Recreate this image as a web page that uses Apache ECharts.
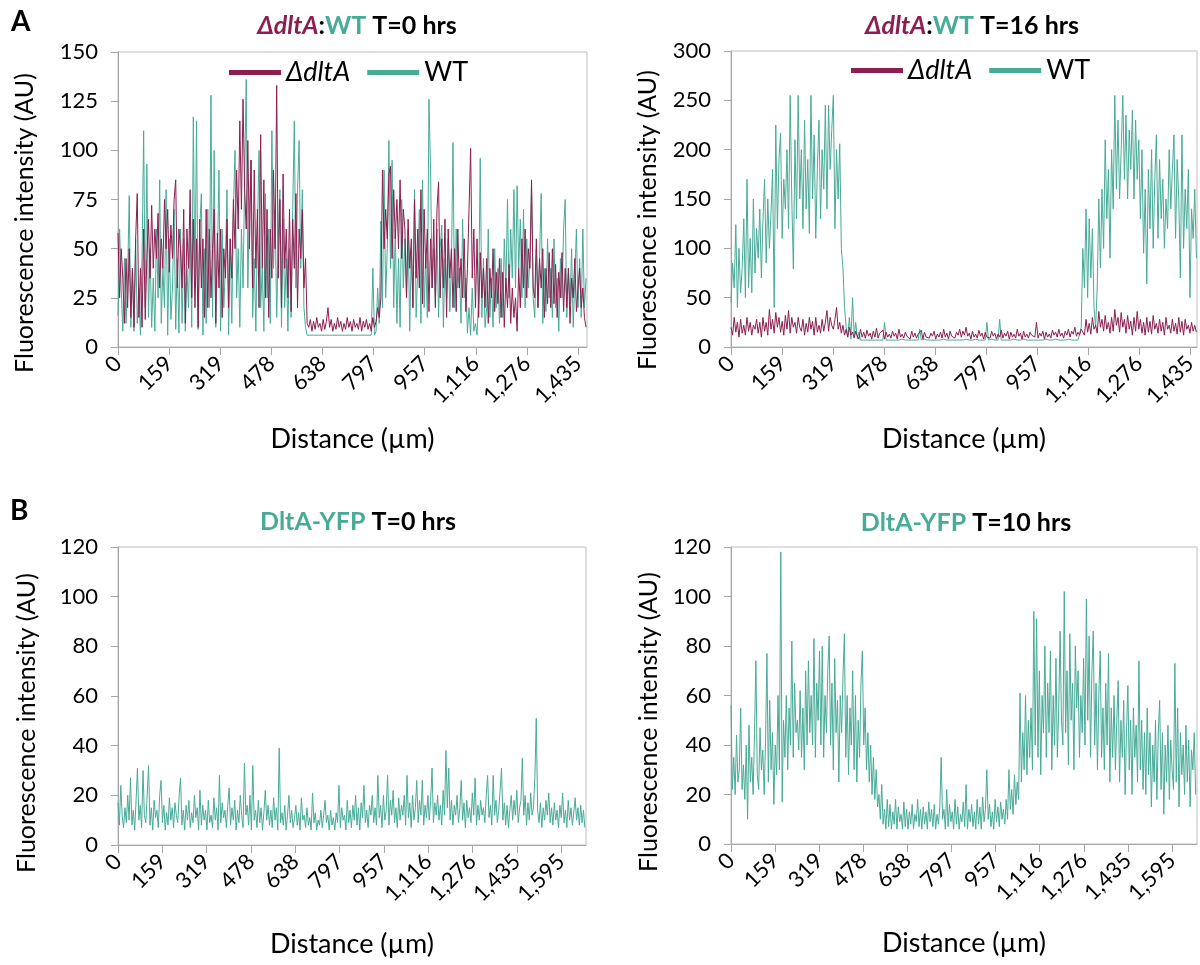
<!DOCTYPE html>
<html>
<head>
<meta charset="utf-8">
<title>Fluorescence profiles</title>
<script src="https://cdn.jsdelivr.net/npm/echarts@6/dist/echarts.min.js"></script>
<style>
  html, body { margin: 0; padding: 0; background: #fff; }
  #chart { width: 1200px; height: 965px; }
</style>
</head>
<body>
<div id="chart"></div>
<script>
const TEAL = '#48ab98';
const MAROON = '#8c1e50';
const AXIS_GREY = '#a6a6a6';
const FONT = 'Lato';

// labelled ticks every 159.45 um, printed the way Excel rounded them
const TICK_STEP = 159.45;
const tickLabels = ['0', '159', '319', '478', '638', '797', '957', '1,116', '1,276', '1,435', '1,595'];

// one sample every 5 um along the line scan
const SAMPLE_STEP = 5;

// panel A, T=0 hrs (0 - 1463 um)
const wtT0 = [16,60,30,8,45,12,35,77,10,40,
  8,55,12,30,6,45,110,20,93,15,
  50,10,35,8,60,25,85,12,40,20,
  80,6,55,14,30,70,9,45,7,60,
  12,55,8,40,20,65,10,117,30,115,
  9,60,78,6,50,12,70,20,128,15,
  100,10,45,90,8,60,20,40,80,6,
  55,12,70,100,25,50,10,60,30,85,
  136,30,70,95,15,45,8,60,100,20,
  40,8,78,25,60,12,110,40,70,15,
  55,80,10,65,20,45,8,50,15,70,
  115,30,80,105,40,80,20,10,6,6,
  6,6,6,6,6,6,6,6,6,6,
  6,6,6,6,6,6,6,6,6,6,
  6,6,6,6,6,6,6,6,6,6,
  6,6,6,6,6,6,6,6,6,40,
  6,8,30,12,64,20,90,25,50,105,
  40,95,20,60,12,45,10,75,30,55,
  25,60,8,50,20,80,15,40,70,12,
  85,20,45,15,126,90,30,50,22,60,
  15,50,62,10,45,25,55,18,40,104,
  20,60,30,40,12,65,25,35,7,20,
  6,30,8,12,6,25,96,15,45,10,
  20,60,15,35,10,50,20,40,12,45,
  15,55,30,75,25,60,35,80,30,82,
  40,65,25,70,20,55,30,45,80,25,
  15,50,20,45,78,12,40,18,55,25,
  40,15,55,20,35,8,45,25,60,75,
  15,40,22,50,10,35,60,20,45,15,
  60,20,35];
const dltAT0 = [58,25,50,35,12,45,20,50,15,40,
  10,55,78,15,40,10,60,14,45,65,
  35,72,40,60,45,68,30,55,40,75,
  50,70,38,62,45,75,85,30,60,50,
  30,70,12,60,40,80,25,65,20,55,
  10,65,30,55,15,70,20,60,25,50,
  70,12,58,30,60,15,50,35,65,20,
  55,35,75,50,90,60,115,70,126,80,
  60,105,50,95,30,90,40,70,20,108,
  40,85,25,70,15,60,35,90,50,133,
  35,75,20,88,40,60,25,70,18,65,
  40,78,20,60,45,70,30,45,12,10,
  14,8,13,9,15,10,12,8,14,9,
  13,20,10,14,8,12,9,15,10,13,
  8,12,9,15,10,13,8,14,10,12,
  9,15,8,13,10,14,9,12,8,15,
  10,13,20,15,25,90,50,70,55,88,
  92,45,80,55,75,50,85,45,70,60,
  25,65,40,55,20,75,35,60,30,80,
  22,70,40,60,18,55,30,65,20,70,
  84,25,55,30,65,15,60,35,50,20,
  50,18,60,30,45,25,55,18,40,70,
  101,35,60,20,55,15,48,25,40,20,
  45,12,40,25,50,18,38,22,45,15,
  38,10,35,20,42,12,30,15,25,8,
  40,20,55,30,60,25,50,40,85,30,
  25,55,20,45,30,50,15,40,22,48,
  20,50,22,42,15,38,25,48,18,40,
  20,40,12,35,25,45,18,30,40,20,
  30,15,10];

// panel A, T=16 hrs (0 - 1457 um)
const wtT16 = [45,85,60,124,40,100,55,80,130,50,
  170,60,110,55,150,75,120,90,140,70,
  130,170,85,150,100,135,180,40,225,120,
  190,217,110,170,140,200,120,255,150,79,
  210,130,255,150,200,120,230,140,190,115,
  255,150,215,110,180,230,130,200,160,245,
  140,245,180,220,255,120,200,150,206,100,
  80,40,20,10,30,8,50,12,25,8,
  15,7,8,7,7,7,8,7,7,7,
  7,7,8,7,7,7,25,7,7,7,
  7,7,8,7,7,7,7,8,7,7,
  7,7,8,7,7,7,7,7,18,7,
  7,8,7,7,7,7,8,7,7,7,
  7,7,7,8,7,7,7,7,8,7,
  7,7,8,7,7,7,7,8,7,7,
  7,7,7,8,7,7,7,7,8,7,
  25,7,7,8,7,7,7,7,28,7,
  7,7,8,7,7,7,7,8,7,7,
  7,7,7,8,7,7,7,7,8,7,
  7,7,8,7,7,7,7,8,7,7,
  7,7,7,8,7,7,7,7,8,7,
  7,8,7,7,7,7,8,7,7,20,
  100,60,140,50,130,70,120,40,20,60,
  150,80,160,100,210,130,180,90,200,140,
  255,160,230,150,200,255,170,235,150,220,
  180,240,150,230,170,210,130,200,95,160,
  64,180,120,200,100,170,215,110,190,130,
  170,100,150,120,200,140,180,215,110,190,
  150,70,215,100,160,120,180,50,140,110,
  160,90];
const dltAT16 = [20,12,30,15,25,10,28,14,22,12,
  30,16,25,12,22,18,28,14,25,10,
  30,16,25,12,38,18,28,14,35,20,
  30,15,26,12,32,18,37,14,30,20,
  25,14,30,20,16,28,12,24,15,30,
  18,26,12,30,15,22,14,28,16,25,
  37,16,30,22,18,28,40,18,25,14,
  22,12,18,10,20,12,15,9,16,11,
  8,18,10,15,9,17,11,14,8,16,
  10,19,9,14,12,17,8,15,10,13,
  9,16,11,14,8,18,10,13,9,15,
  11,12,8,16,10,14,9,13,11,17,
  8,15,10,12,9,14,11,16,8,13,
  10,15,9,18,10,14,8,16,11,13,
  9,15,12,18,10,16,12,20,11,14,
  8,16,10,13,9,17,11,14,8,15,
  10,12,9,16,11,14,8,13,10,17,
  9,14,11,16,8,15,10,13,9,18,
  11,14,8,16,10,13,9,15,12,14,
  10,25,9,14,11,16,8,15,10,13,
  9,17,12,15,10,18,11,14,9,16,
  12,18,10,16,13,20,11,15,12,18,
  20,12,28,15,24,13,30,18,22,14,
  36,20,28,16,32,18,25,14,30,16,
  38,22,30,15,35,20,28,14,32,18,
  26,12,30,16,36,18,28,14,25,12,
  30,15,26,13,32,18,24,14,28,16,
  25,12,30,18,22,14,28,16,24,13,
  30,15,26,12,28,18,22,14,25,16,
  22,15];

// panel B, DltA-YFP (0 - 1684 um)
const yfpT0 = [17,8,24,12,7,15,9,20,10,27,
  8,14,6,18,31,10,16,7,30,12,
  9,20,32,8,15,6,18,11,14,7,
  20,26,9,16,6,13,8,19,10,15,
  7,17,12,9,20,27,8,14,6,16,
  10,18,7,13,9,20,11,15,6,22,
  8,16,10,14,6,18,9,12,7,19,
  10,15,6,28,9,17,11,14,7,16,
  23,8,15,10,18,6,14,9,20,12,
  7,33,12,16,8,20,6,32,10,14,
  7,18,9,15,6,13,22,10,16,8,
  14,7,19,10,15,6,39,9,13,8,
  16,6,12,20,9,14,7,11,16,8,
  13,6,19,10,12,7,15,8,11,6,
  21,9,13,6,10,8,14,7,12,18,
  9,12,6,14,8,11,6,13,9,24,
  7,15,10,12,6,18,9,14,7,16,
  10,20,8,15,6,17,11,24,9,14,
  7,16,12,20,9,15,8,28,11,16,
  7,20,10,14,28,8,18,12,22,9,
  15,7,19,10,16,12,20,8,28,11,
  17,7,20,10,15,26,9,18,12,26,
  8,16,11,20,10,18,31,9,17,12,
  20,10,16,8,22,12,38,15,31,10,
  18,8,16,12,20,9,15,26,10,17,
  7,18,11,15,9,21,12,27,8,16,
  10,18,12,15,9,20,28,11,16,8,
  28,12,18,9,14,22,31,10,17,8,
  16,7,14,20,10,18,12,22,9,15,
  18,35,12,20,8,17,10,21,12,15,
  27,51,14,9,17,7,15,10,18,12,
  21,9,15,8,17,10,14,7,16,11,
  21,9,14,7,18,10,15,8,13,19,
  10,15,8,16,9,14,7];
const yfpT10 = [56,22,35,20,44,25,30,55,22,32,
  18,40,10,48,25,35,20,45,74,28,
  22,47,30,38,20,42,77,25,58,30,
  45,16,40,28,60,30,118,17,50,35,
  60,30,55,40,82,35,65,45,50,38,
  62,35,55,30,70,40,74,45,60,40,
  83,35,65,50,78,40,80,35,60,45,
  70,84,40,65,30,75,45,58,25,60,
  45,68,85,35,60,28,55,40,70,30,
  60,25,50,35,65,78,40,55,30,45,
  25,40,20,35,18,30,15,20,10,24,
  8,14,6,18,7,16,6,13,8,18,
  6,15,9,12,6,17,7,14,6,13,
  8,16,6,12,9,18,7,14,6,15,
  8,13,6,17,9,14,7,16,6,12,
  8,15,35,10,14,6,22,7,16,9,
  13,6,18,8,15,6,12,9,17,7,
  24,6,14,9,16,7,13,6,18,8,
  15,6,19,9,14,30,10,16,7,13,
  6,18,9,15,7,17,10,14,8,18,
  10,30,14,22,12,28,16,25,18,61,
  25,45,30,60,28,50,35,55,30,94,
  40,91,35,70,28,60,45,80,35,65,
  45,78,30,60,40,75,35,55,86,50,
  40,102,45,70,32,85,50,65,30,80,
  55,70,35,60,45,75,40,99,50,84,
  35,70,86,40,65,30,60,78,35,55,
  30,65,40,77,25,55,35,60,30,50,
  66,25,50,35,58,20,45,64,30,50,
  20,55,35,48,25,74,30,50,22,45,
  20,55,28,45,15,40,25,50,18,45,
  58,22,45,12,40,25,48,18,42,30,
  22,73,25,55,15,45,28,40,20,48,
  25,42,15,38,30,45,20];

function points(values) {
  return values.map((v, i) => [i * SAMPLE_STEP, v]);
}

function tickValues(max) {
  return tickLabels.map((_, k) => k * TICK_STEP).filter(v => v <= max);
}

function xAxis(gridIndex, max, nameGap) {
  const ticks = tickValues(max);
  return {
    type: 'value', gridIndex: gridIndex, min: 0, max: max,
    name: 'Distance (µm)', nameLocation: 'middle', nameGap: nameGap,
    nameTextStyle: { fontFamily: FONT, fontSize: 27, color: '#000' },
    axisLine: { onZero: false, lineStyle: { color: AXIS_GREY } },
    axisTick: { customValues: ticks, length: 8, lineStyle: { color: AXIS_GREY } },
    axisLabel: {
      customValues: ticks, rotate: 45, margin: 13,
      fontFamily: FONT, fontSize: 22, color: '#000',
      formatter: v => tickLabels[Math.round(v / TICK_STEP)]
    },
    splitLine: { show: false }
  };
}

function yAxis(gridIndex, max, interval) {
  return {
    type: 'value', gridIndex: gridIndex, min: 0, max: max, interval: interval,
    axisLine: { show: true, onZero: false, lineStyle: { color: AXIS_GREY } },
    axisTick: { show: true, length: 7, lineStyle: { color: AXIS_GREY } },
    axisLabel: { margin: 20, fontFamily: FONT, fontSize: 22, color: '#000' },
    splitLine: { show: false }
  };
}

function line(name, color, xi, values) {
  return {
    name: name, type: 'line', xAxisIndex: xi, yAxisIndex: xi,
    data: points(values),
    showSymbol: false, symbol: 'none',
    lineStyle: { color: color, width: 1 },
    itemStyle: { color: color },
    animation: false
  };
}

const titleRich = {
  m: { color: MAROON, fontStyle: 'italic', fontWeight: 'bold', fontSize: 25, fontFamily: FONT },
  t: { color: TEAL, fontWeight: 'bold', fontSize: 25, fontFamily: FONT },
  k: { color: '#000', fontWeight: 'bold', fontSize: 25, fontFamily: FONT }
};

function title(text, x, y) {
  return { text: text, left: x, top: y, textAlign: 'center', padding: 0, textStyle: { rich: titleRich } };
}

function legend(x, y) {
  return {
    left: x, top: y, padding: 0, selectedMode: false,
    data: ['ΔdltA', 'WT'],
    icon: 'rect', itemWidth: 52, itemHeight: 5, itemGap: 17,
    formatter: n => n === 'ΔdltA' ? '{i|ΔdltA}' : n,
    textStyle: {
      fontFamily: FONT, fontSize: 27, color: '#000',
      rich: { i: { fontFamily: FONT, fontSize: 27, fontStyle: 'italic', color: '#000' } }
    }
  };
}

// y-axis titles sit a little below the middle of each plot, as in the original
function yTitle(x, y) {
  return {
    type: 'text', x: x, y: y, rotation: Math.PI / 2,
    style: {
      text: 'Fluorescence intensity (AU)', fontFamily: FONT, fontSize: 25,
      fill: '#000', align: 'center', verticalAlign: 'middle'
    }
  };
}

const chart = echarts.init(document.getElementById('chart'));

chart.setOption({
  animation: false,
  backgroundColor: '#fff',
  title: [
    title('{m|ΔdltA}{k|:}{t|WT}{k| T=0 hrs}', 357, 13),
    title('{m|ΔdltA}{k|:}{t|WT}{k| T=16 hrs}', 972, 13),
    title('{t|DltA-YFP}{k| T=0 hrs}', 358, 509),
    title('{t|DltA-YFP}{k| T=10 hrs}', 966, 510)
  ],
  legend: [legend(229, 59), legend(851, 57)],
  grid: [
    { left: 118, top: 52, width: 469, height: 295, show: true, borderColor: '#bfbfbf', borderWidth: 1 },
    { left: 731, top: 51, width: 466, height: 296, show: true, borderColor: '#bfbfbf', borderWidth: 1 },
    { left: 118, top: 547, width: 468, height: 298, show: true, borderColor: '#bfbfbf', borderWidth: 1 },
    { left: 731, top: 547, width: 466, height: 297, show: true, borderColor: '#bfbfbf', borderWidth: 1 }
  ],
  xAxis: [
    xAxis(0, 1463, 79),
    xAxis(1, 1457, 79),
    xAxis(2, 1684, 86),
    xAxis(3, 1685, 86)
  ],
  yAxis: [
    yAxis(0, 150, 25),
    yAxis(1, 300, 50),
    yAxis(2, 120, 20),
    yAxis(3, 120, 20)
  ],
  series: [
    line('WT', TEAL, 0, wtT0),
    line('ΔdltA', MAROON, 0, dltAT0),
    line('WT', TEAL, 1, wtT16),
    line('ΔdltA', MAROON, 1, dltAT16),
    line('DltA-YFP', TEAL, 2, yfpT0),
    line('DltA-YFP', TEAL, 3, yfpT10)
  ],
  graphic: [
    { type: 'text', left: 11, top: 8, style: { text: 'A', fontFamily: FONT, fontSize: 28, fontWeight: 'bold', fill: '#000' } },
    { type: 'text', left: 10, top: 497, style: { text: 'B', fontFamily: FONT, fontSize: 28, fontWeight: 'bold', fill: '#000' } },
    yTitle(25, 223),
    yTitle(648, 220),
    yTitle(27, 723),
    yTitle(649, 722)
  ]
});
</script>
</body>
</html>
